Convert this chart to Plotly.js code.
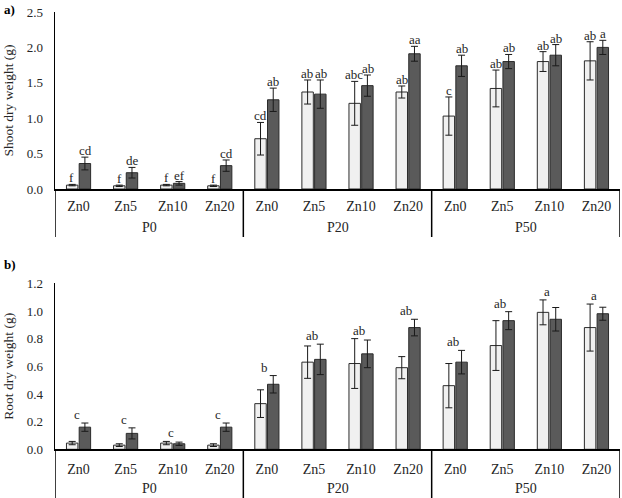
<!DOCTYPE html>
<html>
<head>
<meta charset="utf-8">
<script src="https://cdn.plot.ly/plotly-3.0.1.min.js"></script>
<style>html,body{margin:0;padding:0;background:#fff;}#chart{width:622px;height:498px;}</style>
</head>
<body>
<div id="chart"></div>
<script>
// ---- data ----
var groups = ['P0','P0','P0','P0','P20','P20','P20','P20','P50','P50','P50','P50'];
var zn = ['Zn0','Zn5','Zn10','Zn20','Zn0','Zn5','Zn10','Zn20','Zn0','Zn5','Zn10','Zn20'];

var shootLight    = [0.055,0.045,0.055,0.045, 0.71,1.37,1.21,1.37, 1.03,1.42,1.80,1.81];
var shootLightErr = [0.01,0.01,0.01,0.01, 0.23,0.17,0.31,0.085, 0.27,0.26,0.14,0.27];
var shootDark     = [0.36,0.23,0.08,0.33, 1.26,1.34,1.46,1.91, 1.74,1.80,1.89,2.00];
var shootDarkErr  = [0.09,0.075,0.025,0.08, 0.165,0.20,0.15,0.105, 0.15,0.10,0.15,0.10];
var shootLightLetters = ['f','f','f','f','cd','ab','abc','ab','c','ab','ab','ab'];
var shootDarkLetters  = ['cd','de','ef','cd','ab','ab','ab','aa','ab','ab','ab','a'];

var rootLight    = [0.045,0.03,0.045,0.03, 0.33,0.63,0.62,0.59, 0.46,0.75,0.99,0.88];
var rootLightErr = [0.012,0.01,0.012,0.01, 0.10,0.117,0.18,0.08, 0.16,0.18,0.09,0.17];
var rootDark     = [0.16,0.115,0.04,0.16, 0.47,0.65,0.69,0.88, 0.63,0.93,0.94,0.98];
var rootDarkErr  = [0.03,0.04,0.012,0.03, 0.063,0.11,0.10,0.06, 0.085,0.065,0.085,0.047];
var rootLetters  = ['c','c','c','c','b','ab','ab','ab','ab','ab','a','a'];

// ---- styles ----
var FONT = 'Liberation Serif, Times New Roman, serif';
var TXT = '#262626';
var lightFill = '#f0f0f0', darkFill = '#5a5a5a';
var H = 498;
var idx = zn.map(function (_, i) { return i; });

function barTrace(y, err, fill, xa, ya) {
  return {
    type: 'bar', x: idx, y: y, xaxis: xa, yaxis: ya,
    marker: {color: fill, line: {color: '#2b2b2b', width: 1}},
    error_y: {type: 'data', array: err, visible: true, color: '#1a1a1a', thickness: 1, width: 3.5},
    showlegend: false, hoverinfo: 'skip'
  };
}

var data = [
  barTrace(shootLight, shootLightErr, lightFill, 'x', 'y'),
  barTrace(shootDark, shootDarkErr, darkFill, 'x', 'y'),
  barTrace(rootLight, rootLightErr, lightFill, 'x2', 'y2'),
  barTrace(rootDark, rootDarkErr, darkFill, 'x2', 'y2')
];

var OFF = 0.14;
var annotations = [];
for (var i = 0; i < zn.length; i++) {
  annotations.push({xref: 'x', yref: 'y', x: i - OFF, y: shootLight[i] + shootLightErr[i],
    text: shootLightLetters[i], showarrow: false, yanchor: 'bottom', yshift: -3,
    font: {family: FONT, size: 13, color: TXT}});
  annotations.push({xref: 'x', yref: 'y', x: i + OFF, y: shootDark[i] + shootDarkErr[i],
    text: shootDarkLetters[i], showarrow: false, yanchor: 'bottom', yshift: -3,
    font: {family: FONT, size: 13, color: TXT}});
  annotations.push({xref: 'x2', yref: 'y2', x: i,
    y: Math.max(rootLight[i] + rootLightErr[i], rootDark[i] + rootDarkErr[i]),
    text: rootLetters[i], showarrow: false, yanchor: 'bottom', yshift: -1, xshift: -2,
    font: {family: FONT, size: 13, color: TXT}});
}
annotations.push({xref: 'paper', yref: 'paper', x: 0.003, y: 1, xanchor: 'left', yanchor: 'top',
  text: '<b>a)</b>', showarrow: false, font: {family: FONT, size: 13, color: '#000'}});
annotations.push({xref: 'paper', yref: 'paper', x: 0.003, y: 1 - 255 / H, xanchor: 'left', yanchor: 'top',
  text: '<b>b)</b>', showarrow: false, font: {family: FONT, size: 13, color: '#000'}});

// group labels and dividers (derived from the groups array)
var shapes = [];
var panels = [{xref: 'x', axisPx: 189, labelPx: 228, endPx: 237},
              {xref: 'x2', axisPx: 449.3, labelPx: 488, endPx: 498}];
var bounds = [];
var starts = [];
for (var g = 0; g < groups.length; g++) {
  if (g === 0 || groups[g] !== groups[g - 1]) { bounds.push(g - 0.5); starts.push(g); }
}
bounds.push(groups.length - 0.5);
panels.forEach(function (p) {
  bounds.forEach(function (b) {
    shapes.push({type: 'line', xref: p.xref, yref: 'paper', x0: b, x1: b,
      y0: 1 - p.axisPx / H, y1: 1 - p.endPx / H, line: {color: '#000', width: 1.5}});
  });
  starts.forEach(function (s, k) {
    var e = (k + 1 < starts.length ? starts[k + 1] : groups.length) - 1;
    annotations.push({xref: p.xref, yref: 'paper', x: (s + e) / 2, y: 1 - p.labelPx / H,
      yanchor: 'middle', text: groups[s], showarrow: false,
      font: {family: FONT, size: 14, color: TXT}});
  });
});

function xAxis(anchor, standoff) {
  return {
    anchor: anchor, domain: [55 / 622, 620 / 622],
    range: [-0.5, 11.5], tickmode: 'array', tickvals: idx, ticktext: zn,
    showline: true, linecolor: '#000', linewidth: 1.5,
    ticks: '', showgrid: false, zeroline: false, ticklabelstandoff: standoff,
    tickfont: {family: FONT, size: 14, color: TXT}, fixedrange: true
  };
}
function yAxis(anchor, domain, range, dtick, title) {
  return {
    anchor: anchor, domain: domain, range: range, dtick: dtick, tickformat: '.1f',
    showline: true, linecolor: '#000', linewidth: 1.5, ticks: '', showgrid: false,
    zeroline: false, ticklabelstandoff: 8,
    tickfont: {family: FONT, size: 13, color: TXT},
    title: {text: title, font: {family: FONT, size: 13.5, color: TXT}, standoff: 10},
    fixedrange: true
  };
}

var layout = {
  width: 622, height: H,
  margin: {l: 0, r: 0, t: 0, b: 0},
  paper_bgcolor: '#fff', plot_bgcolor: '#fff',
  barmode: 'group', bargap: 0.46, bargroupgap: 0.1,
  font: {family: FONT, size: 13, color: TXT},
  xaxis: xAxis('y', 4),
  yaxis: yAxis('x', [(H - 189) / H, (H - 12) / H], [0, 2.5], 0.5, 'Shoot dry weight (g)'),
  xaxis2: xAxis('y2', 6),
  yaxis2: yAxis('x2', [(H - 449.3) / H, (H - 283.3) / H], [0, 1.2], 0.2, 'Root dry weight (g)'),
  annotations: annotations,
  shapes: shapes
};

Plotly.newPlot('chart', data, layout, {displayModeBar: false, staticPlot: true});
</script>
</body>
</html>
